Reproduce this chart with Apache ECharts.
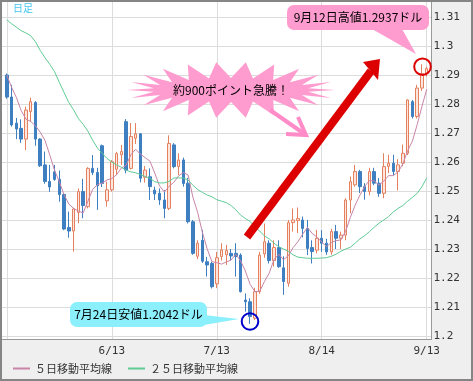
<!DOCTYPE html>
<html><head><meta charset="utf-8">
<script src="https://cdn.jsdelivr.net/npm/echarts@6/dist/echarts.min.js"></script>
<style>html,body{margin:0;padding:0;background:#efefef}#c{width:473px;height:381px}</style>
</head><body><div id="c"></div><script>
const dates=['5/14','5/15','5/16','5/17','5/18','5/21','5/22','5/23','5/24','5/25','5/28','5/29','5/30','5/31','6/1','6/4','6/5','6/6','6/7','6/8','6/11','6/12','6/13','6/14','6/15','6/18','6/19','6/20','6/21','6/22','6/25','6/26','6/27','6/28','6/29','7/2','7/3','7/4','7/5','7/6','7/9','7/10','7/11','7/12','7/13','7/16','7/17','7/18','7/19','7/20','7/23','7/24','7/25','7/26','7/27','7/30','7/31','8/1','8/2','8/3','8/6','8/7','8/8','8/9','8/10','8/13','8/14','8/15','8/16','8/17','8/20','8/21','8/22','8/23','8/24','8/27','8/28','8/29','8/30','8/31','9/3','9/4','9/5','9/6','9/7','9/10','9/11','9/12','9/13'];
const openP=[1.2900,1.2824,1.2734,1.2716,1.2679,1.2774,1.2805,1.2679,1.2590,1.2533,1.2566,1.2540,1.2488,1.2374,1.2362,1.2426,1.2498,1.2446,1.2578,1.2564,1.2656,1.2466,1.2504,1.2575,1.2625,1.2739,1.2578,1.2682,1.2697,1.2547,1.2549,1.2503,1.2492,1.2469,1.2440,1.2659,1.2584,1.2607,1.2527,1.2394,1.2275,1.2330,1.2256,1.2250,1.2180,1.2274,1.2280,1.2285,1.2285,1.2279,1.2124,1.2118,1.2061,1.2153,1.2283,1.2320,1.2260,1.2305,1.2235,1.2182,1.2391,1.2398,1.2400,1.2371,1.2305,1.2296,1.2337,1.2320,1.2290,1.2360,1.2337,1.2348,1.2469,1.2521,1.2567,1.2515,1.2498,1.2567,1.2527,1.2492,1.2585,1.2596,1.2567,1.2596,1.2630,1.2808,1.2757,1.2855,1.2905];
const highP=[1.2905,1.2866,1.2752,1.2747,1.2791,1.2822,1.2810,1.2682,1.2636,1.2590,1.2590,1.2571,1.2492,1.2429,1.2442,1.2509,1.2542,1.2582,1.2624,1.2580,1.2660,1.2532,1.2607,1.2635,1.2659,1.2748,1.2734,1.2734,1.2700,1.2586,1.2578,1.2515,1.2509,1.2503,1.2692,1.2665,1.2630,1.2615,1.2545,1.2400,1.2330,1.2366,1.2273,1.2256,1.2290,1.2320,1.2314,1.2300,1.2320,1.2285,1.2147,1.2130,1.2166,1.2290,1.2388,1.2330,1.2330,1.2330,1.2275,1.2400,1.2440,1.2443,1.2412,1.2400,1.2330,1.2366,1.2365,1.2335,1.2370,1.2383,1.2360,1.2475,1.2550,1.2590,1.2573,1.2527,1.2580,1.2580,1.2545,1.2630,1.2625,1.2625,1.2610,1.2660,1.2816,1.2814,1.2866,1.2937,1.2928];
const lowP=[1.2818,1.2722,1.2679,1.2666,1.2641,1.2739,1.2656,1.2583,1.2525,1.2497,1.2535,1.2463,1.2365,1.2339,1.2291,1.2389,1.2406,1.2440,1.2555,1.2435,1.2514,1.2446,1.2498,1.2555,1.2590,1.2561,1.2574,1.2662,1.2530,1.2529,1.2469,1.2469,1.2452,1.2406,1.2434,1.2578,1.2555,1.2515,1.2388,1.2280,1.2265,1.2252,1.2205,1.2164,1.2165,1.2260,1.2245,1.2260,1.2205,1.2150,1.2084,1.2042,1.2055,1.2145,1.2270,1.2250,1.2240,1.2235,1.2142,1.2170,1.2360,1.2355,1.2340,1.2279,1.2250,1.2285,1.2290,1.2280,1.2280,1.2300,1.2300,1.2330,1.2423,1.2515,1.2493,1.2470,1.2485,1.2520,1.2480,1.2475,1.2562,1.2555,1.2502,1.2585,1.2624,1.2750,1.2750,1.2845,1.2895];
const closeP=[1.2824,1.2728,1.2714,1.2679,1.2779,1.2808,1.2679,1.2587,1.2533,1.2514,1.2540,1.2488,1.2369,1.2362,1.2438,1.2498,1.2450,1.2578,1.2564,1.2518,1.2526,1.2504,1.2601,1.2629,1.2636,1.2572,1.2688,1.2697,1.2544,1.2572,1.2515,1.2490,1.2469,1.2440,1.2664,1.2584,1.2607,1.2526,1.2394,1.2285,1.2320,1.2258,1.2245,1.2170,1.2270,1.2297,1.2295,1.2276,1.2274,1.2153,1.2118,1.2067,1.2153,1.2279,1.2325,1.2260,1.2305,1.2239,1.2188,1.2391,1.2400,1.2405,1.2371,1.2302,1.2291,1.2337,1.2320,1.2290,1.2360,1.2337,1.2348,1.2469,1.2532,1.2567,1.2515,1.2498,1.2567,1.2527,1.2492,1.2584,1.2596,1.2567,1.2590,1.2630,1.2814,1.2757,1.2855,1.2905,1.2922];
const ma5=[1.2900,1.2858,1.2823,1.2778,1.2748,1.2740,1.2725,1.2703,1.2675,1.2625,1.2572,1.2532,1.2488,1.2455,1.2440,1.2431,1.2424,1.2465,1.2506,1.2522,1.2527,1.2538,1.2543,1.2556,1.2579,1.2588,1.2625,1.2644,1.2627,1.2615,1.2603,1.2562,1.2518,1.2497,1.2516,1.2530,1.2552,1.2564,1.2555,1.2479,1.2426,1.2357,1.2300,1.2256,1.2253,1.2248,1.2255,1.2262,1.2282,1.2259,1.2224,1.2178,1.2153,1.2154,1.2188,1.2217,1.2264,1.2282,1.2263,1.2277,1.2305,1.2325,1.2351,1.2374,1.2354,1.2341,1.2324,1.2308,1.2322,1.2329,1.2331,1.2361,1.2409,1.2451,1.2486,1.2516,1.2536,1.2535,1.2520,1.2534,1.2553,1.2553,1.2566,1.2593,1.2639,1.2672,1.2729,1.2792,1.2851];
const ma25=[1.3090,1.3077,1.3065,1.3053,1.3045,1.3036,1.3015,1.2985,1.2960,1.2937,1.2912,1.2875,1.2840,1.2805,1.2780,1.2750,1.2730,1.2706,1.2675,1.2648,1.2630,1.2612,1.2600,1.2590,1.2582,1.2572,1.2566,1.2563,1.2557,1.2550,1.2544,1.2532,1.2528,1.2528,1.2533,1.2545,1.2545,1.2545,1.2538,1.2520,1.2505,1.2495,1.2486,1.2480,1.2470,1.2465,1.2460,1.2450,1.2435,1.2417,1.2405,1.2395,1.2375,1.2362,1.2345,1.2335,1.2320,1.2308,1.2300,1.2292,1.2280,1.2272,1.2270,1.2268,1.2268,1.2268,1.2269,1.2270,1.2275,1.2282,1.2292,1.2300,1.2306,1.2320,1.2335,1.2346,1.2360,1.2375,1.2389,1.2400,1.2412,1.2428,1.2440,1.2450,1.2465,1.2478,1.2492,1.2515,1.2545];
const labelDates=['6/13','7/13','8/14','9/13'];
const gridDates=['5/14','6/13','7/13','8/14','9/13'];

const cats=[''].concat(dates,['']);
const blank=['-','-','-','-'];
const candleData=[blank].concat(dates.map((d,i)=>[openP[i],closeP[i],lowP[i],highP[i]]),[blank]);
const ma5Data=['-'].concat(ma5,['-']);
const ma25Data=['-'].concat(ma25,['-']);

const burst=[];const N=22;
for(let k=0;k<2*N;k++){const a=Math.PI*k/N;const o=k%2===0;burst.push([231+(o?104:78)*Math.cos(a),90+(o?28:12)*Math.sin(a)]);}

const mono='"DejaVu Sans Mono"';
const jp='"Noto Sans CJK JP"';
const chart=echarts.init(document.getElementById('c'));
chart.setOption({
  animation:false,
  backgroundColor:'#efefef',
  grid:{left:2,right:41.5,top:1,bottom:42,show:true,backgroundColor:'#ffffff',borderWidth:0},
  legend:{data:['５日移動平均線','２５日移動平均線'],left:13,top:363,padding:0,itemGap:16,itemWidth:17,itemHeight:2,icon:'rect',
    textStyle:{fontFamily:jp,fontSize:11,color:'#333'}},
  xAxis:{type:'category',data:cats,boundaryGap:false,
    axisLine:{show:true,lineStyle:{color:'#999'}},axisTick:{show:false},
    axisLabel:{interval:(i,v)=>labelDates.includes(v),fontFamily:mono,fontSize:11,color:'#333',margin:7},
    splitLine:{show:true,interval:(i,v)=>gridDates.includes(v),lineStyle:{color:'#dcdcdc'}}},
  yAxis:{type:'value',position:'right',min:1.2-3/2900,max:1.2+335/2900,splitNumber:11,scale:true,
    axisLine:{show:true,lineStyle:{color:'#999'}},axisTick:{show:false},
    axisLabel:{fontFamily:mono,fontSize:11,color:'#333',margin:2,
      formatter:v=>Math.abs(v*100-Math.round(v*100))<1e-6?String(+v.toFixed(2)):''},
    splitLine:{lineStyle:{color:'#dcdcdc'}}},
  series:[
    {type:'candlestick',data:candleData,barWidth:3,
      itemStyle:{color:'#fde6de',color0:'#3d7fc0',borderColor:'#e5805f',borderColor0:'#3d7fc0',borderWidth:1}},
    {name:'５日移動平均線',type:'line',data:ma5Data,symbol:'none',lineStyle:{color:'#c985a8',width:1},itemStyle:{color:'#c985a8'}},
    {name:'２５日移動平均線',type:'line',data:ma25Data,symbol:'none',lineStyle:{color:'#5fcb95',width:1},itemStyle:{color:'#5fcb95'}}
  ],
  graphic:[
    {type:'text',x:13,y:3,z:100,style:{text:'日足',fill:'#44c6ee',font:'10px '+jp}},
    {type:'polygon',z:100,shape:{points:burst},style:{fill:'#ff9ccf'}},
    {type:'text',x:231,y:90,z:101,style:{text:'約900ポイント急騰！',fill:'#000',font:'12px '+jp,textAlign:'center',textVerticalAlign:'middle',align:'center',verticalAlign:'middle'}},
    {type:'polyline',z:100,shape:{points:[[270,110],[306,135]]},style:{stroke:'#ff8cc8',lineWidth:4,fill:null}},
    {type:'polyline',z:100,shape:{points:[[298,117],[306,135],[286,134]]},style:{stroke:'#ff8cc8',lineWidth:4,fill:null}},
    {type:'line',z:100,shape:{x1:247,y1:237,x2:371,y2:71},style:{stroke:'#dd0000',lineWidth:8}},
    {type:'polygon',z:100,shape:{points:[[380,59],[363,62],[378,80]]},style:{fill:'#dd0000'}},
    {type:'polygon',z:100,shape:{points:[[372,29],[402,29],[416,54]]},style:{fill:'#ff9ccf'}},
    {type:'rect',z:100,shape:{x:287,y:5,width:142,height:25,r:7},style:{fill:'#ff9ccf'}},
    {type:'text',x:358,y:17.5,z:101,style:{text:'9月12日高値1.2937ドル',fill:'#000',font:'12px '+jp,textAlign:'center',textVerticalAlign:'middle',align:'center',verticalAlign:'middle'}},
    {type:'circle',z:100,shape:{cx:422.5,cy:66.7,r:8.3},style:{fill:'rgba(0,0,0,0)',stroke:'#dd0000',lineWidth:2}},
    {type:'polygon',z:100,shape:{points:[[204,315],[204,325],[239,319]]},style:{fill:'#8ceffc'}},
    {type:'rect',z:100,shape:{x:70,y:302,width:137,height:25,r:7},style:{fill:'#8ceffc'}},
    {type:'text',x:138.5,y:314.5,z:101,style:{text:'7月24日安値1.2042ドル',fill:'#000',font:'12px '+jp,textAlign:'center',textVerticalAlign:'middle',align:'center',verticalAlign:'middle'}},
    {type:'circle',z:100,shape:{cx:250,cy:321.5,r:8.3},style:{fill:'rgba(0,0,0,0)',stroke:'#0000cc',lineWidth:2}},
    {type:'rect',z:120,shape:{x:1,y:1,width:471,height:379},style:{fill:'rgba(0,0,0,0)',stroke:'#858585',lineWidth:2}}
  ]
});
</script></body></html>
